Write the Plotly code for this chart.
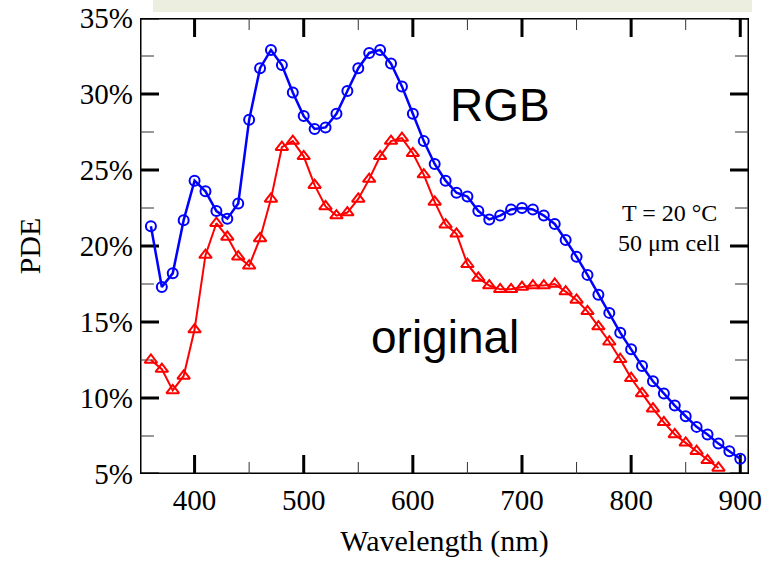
import plotly.graph_objects as go

# ---- data ----
wl_rgb = [360, 370, 380, 390, 400, 410, 420, 430, 440, 450, 460, 470, 480, 490, 500,
          510, 520, 530, 540, 550, 560, 570, 580, 590, 600, 610, 620, 630, 640, 650,
          660, 670, 680, 690, 700, 710, 720, 730, 740, 750, 760, 770, 780, 790, 800,
          810, 820, 830, 840, 850, 860, 870, 880, 890, 900]
pde_rgb = [21.3, 17.3, 18.2, 21.7, 24.3, 23.6, 22.3, 21.8, 22.8, 28.3, 31.7, 32.9, 31.9, 30.1, 28.55,
           27.7, 27.8, 28.7, 30.2, 31.7, 32.7, 32.9, 32.0, 30.5, 28.7, 26.9, 25.4, 24.3, 23.5, 23.25,
           22.3, 21.75, 22.0, 22.4, 22.5, 22.4, 22.0, 21.45, 20.4, 19.3, 18.1, 16.8, 15.6, 14.3, 13.2,
           12.1, 11.1, 10.3, 9.5, 8.8, 8.1, 7.6, 7.0, 6.5, 6.0]

wl_orig = [360, 370, 380, 390, 400, 410, 420, 430, 440, 450, 460, 470, 480, 490, 500,
           510, 520, 530, 540, 550, 560, 570, 580, 590, 600, 610, 620, 630, 640, 650,
           660, 670, 680, 690, 700, 710, 720, 730, 740, 750, 760, 770, 780, 790, 800,
           810, 820, 830, 840, 850, 860, 870, 880]
pde_orig = [12.5, 11.9, 10.5, 11.45, 14.5, 19.4, 21.5, 20.6, 19.3, 18.7, 20.5, 23.1, 26.5, 26.9, 25.9,
            24.0, 22.6, 22.0, 22.2, 23.1, 24.4, 25.9, 26.9, 27.1, 26.1, 24.7, 22.9, 21.4, 20.8, 18.8,
            17.9, 17.4, 17.15, 17.15, 17.3, 17.4, 17.4, 17.5, 17.0, 16.45, 15.7, 14.7, 13.7, 12.55, 11.3,
            10.3, 9.3, 8.4, 7.6, 7.05, 6.5, 5.9, 5.4]

x_range = [350, 908]
y_range = [5, 35]
x_major = [400, 500, 600, 700, 800, 900]
x_minor = [450, 550, 650, 750, 850]
y_major = [5, 10, 15, 20, 25, 30, 35]
y_minor = [7.5, 12.5, 17.5, 22.5, 27.5, 32.5]
y_ticktext = ["5%", "10%", "15%", "20%", "25%", "30%", "35%"]

serif = "Liberation Serif, Times New Roman, serif"
sans = "Liberation Sans, Arial, sans-serif"

PLOT_W, PLOT_H = 609, 456
px_x = PLOT_W / (x_range[1] - x_range[0])   # px per nm
px_y = PLOT_H / (y_range[1] - y_range[0])   # px per %

fig = go.Figure()

# frame + major ticks drawn as a black line trace (positions from the axis ranges / tick arrays)
fx = [x_range[0], x_range[1], x_range[1], x_range[0], x_range[0], None]
fy = [y_range[0], y_range[0], y_range[1], y_range[1], y_range[0], None]
tl_y = 19 / px_y
tl_x = 19 / px_x
for xv in x_major:
    fx += [xv, xv, None, xv, xv, None]
    fy += [y_range[0], y_range[0] + tl_y, None, y_range[1], y_range[1] - tl_y, None]
for yv in y_major:
    fx += [x_range[0], x_range[0] + tl_x, None, x_range[1], x_range[1] - tl_x, None]
    fy += [yv, yv, None, yv, yv, None]
fig.add_trace(go.Scatter(x=fx, y=fy, mode="lines", line=dict(color="black", width=3),
                         hoverinfo="skip", showlegend=False, cliponaxis=False, connectgaps=False))

# minor ticks (thin)
mx, my = [], []
for xv in x_minor:
    mx += [xv, xv, None, xv, xv, None]
    my += [y_range[0], y_range[0] + 12 / px_y, None, y_range[1], y_range[1] - 12 / px_y, None]
for yv in y_minor:
    mx += [x_range[0], x_range[0] + 14 / px_x, None, x_range[1], x_range[1] - 14 / px_x, None]
    my += [yv, yv, None, yv, yv, None]
fig.add_trace(go.Scatter(x=mx, y=my, mode="lines", line=dict(color="#333333", width=1),
                         hoverinfo="skip", showlegend=False, cliponaxis=False, connectgaps=False))

fig.add_trace(go.Scatter(
    x=wl_orig, y=pde_orig, mode="lines+markers", name="original",
    line=dict(color="#ff0000", width=2),
    marker=dict(symbol="triangle-up-open", size=11, color="#ff0000", line=dict(width=2, color="#ff0000")),
    cliponaxis=False,
))
fig.add_trace(go.Scatter(
    x=wl_rgb, y=pde_rgb, mode="lines+markers", name="RGB",
    line=dict(color="#0000ff", width=2.5),
    marker=dict(symbol="circle-open", size=10, color="#0000ff", line=dict(width=2, color="#0000ff")),
    cliponaxis=False,
))

tickfont = dict(family=serif, size=29, color="black")

fig.update_layout(
    template="none",
    width=767, height=567,
    margin=dict(l=140, r=18, t=18, b=93, autoexpand=False),
    paper_bgcolor="white", plot_bgcolor="white",
    showlegend=False,
    xaxis=dict(
        range=x_range, tickmode="array", tickvals=x_major,
        showline=False, ticks="", showgrid=False, zeroline=False, automargin=False,
        tickfont=tickfont, ticklabelstandoff=6,
        title=dict(text="Wavelength (nm)", font=dict(family=serif, size=30, color="black"), standoff=14),
    ),
    yaxis=dict(
        range=y_range, tickmode="array", tickvals=y_major, ticktext=y_ticktext,
        showline=False, ticks="", showgrid=False, zeroline=False, automargin=False,
        tickfont=tickfont, ticklabelstandoff=6,
        title=dict(text="PDE", font=dict(family=serif, size=30, color="black"), standoff=30),
    ),
)

fig.add_annotation(x=680, y=29.3, text="RGB", showarrow=False,
                   font=dict(family=sans, size=46, color="black"), xanchor="center", yanchor="middle")
fig.add_annotation(x=629, y=14.0, text="original", showarrow=False,
                   font=dict(family=sans, size=46, color="black"), xanchor="center", yanchor="middle")
fig.add_annotation(x=835, y=22.2, text="T = 20 °C", showarrow=False,
                   font=dict(family=serif, size=24, color="black"), xanchor="center", yanchor="middle")
fig.add_annotation(x=835, y=20.2, text="50 μm cell", showarrow=False,
                   font=dict(family=serif, size=24, color="black"), xanchor="center", yanchor="middle")

# light title band clipped at the top of the slide
fig.add_shape(type="rect", xref="paper", yref="paper",
              x0=(153 - 140) / PLOT_W, x1=(752 - 140) / PLOT_W, y0=1 + 6 / PLOT_H, y1=1 + 30 / PLOT_H,
              fillcolor="#eceedf", line=dict(width=0), layer="above")

fig.write_html("out.html")
